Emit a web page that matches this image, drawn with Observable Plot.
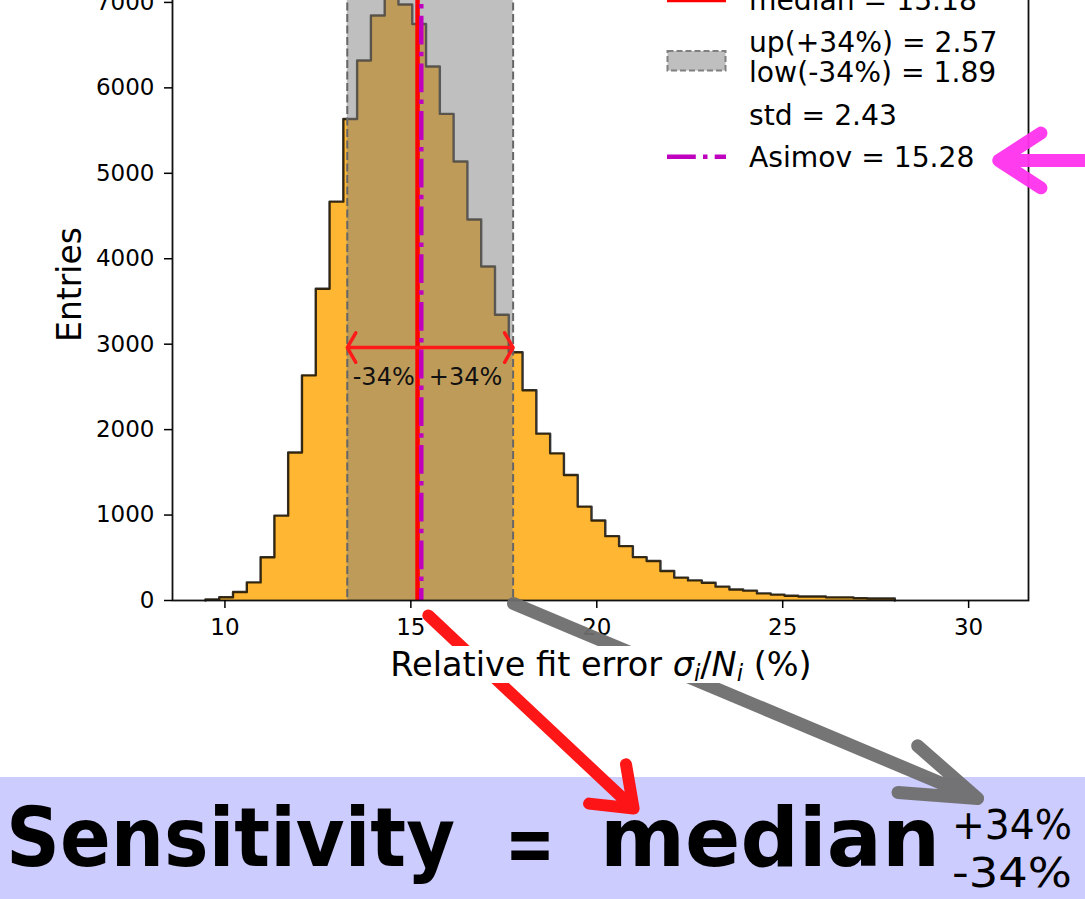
<!DOCTYPE html>
<html>
<head>
<meta charset="utf-8">
<script src="https://cdn.jsdelivr.net/npm/d3@7"></script>
<script src="https://cdn.jsdelivr.net/npm/@observablehq/plot@0.6"></script>
<style>
  html, body { margin: 0; padding: 0; background: #fff; }
  #wrap { position: relative; width: 1085px; height: 899px; overflow: hidden; background: #fff; font-family: "DejaVu Sans", sans-serif; }
  #band { position: absolute; left: 0; top: 777px; width: 1085px; height: 122px; background: #ccccff; }
  #chart { position: absolute; left: 0; top: -72px; }
  #overlay { position: absolute; left: 0; top: 0; }
</style>
</head>
<body>
<div id="wrap">
  <div id="band"></div>
  <div id="chart"></div>
  <svg id="overlay" width="1085" height="899"></svg>
</div>
<script>
// ---- data ----
const counts = [12, 38, 100, 212, 507, 993, 1732, 2635, 3648, 4668,
                5635, 6320, 6847, 7045, 6975, 6748, 6250, 5695, 5138, 4460,
                3910, 3345, 2905, 2461, 1953, 1722, 1468, 1099, 937, 753,
                637, 508, 462, 346, 268, 235, 208, 162, 129, 115,
                83, 69, 55, 46, 46, 37, 37, 28, 23, 23];
const binStart = 9.476;
const binWidth = 0.3708;
const median = 15.18;
const upErr = 2.57;
const lowErr = 1.89;
const stdVal = 2.43;
const asimov = 15.28;
const xTicks = [10, 15, 20, 25, 30];
const yTicks = [0, 1000, 2000, 3000, 4000, 5000, 6000, 7000];
const legendLabels = ["median = 15.18", "up(+34%) = 2.57", "low(-34%) = 1.89", "std = 2.43", "Asimov = 15.28"];
const pctLabels = [{x: 14.27, y: 2616, t: "-34%"}, {x: 16.47, y: 2616, t: "+34%"}];
// hand-drawn annotation arrows (data coordinates)
const redArrow = [{x1: 15.47, y1: -175, x2: 20.99, y2: -2434}];
const grayArrow = [{x1: 17.76, y1: -35, x2: 30.24, y2: -2317}];
const magentaArrow = [{x1: 36.0, y1: 5150, x2: 30.81, y2: 5150}];
const doubleArrowY = 2961;

// ---- derived tables ----
const bins = counts.map((c, i) => ({x1: binStart + i * binWidth, x2: binStart + (i + 1) * binWidth, y: c}));
const last = bins[bins.length - 1];
const outline = [{x: binStart, y: 0}, ...bins.map(b => ({x: b.x1, y: b.y})), {x: last.x2, y: last.y}, {x: last.x2, y: 0}];
const lo = median - lowErr, hi = median + upErr;
const halfArrows = [{x1: median, x2: lo, y: doubleArrowY}, {x1: median, x2: hi, y: doubleArrowY}];

const chart = Plot.plot({
  width: 1085, height: 971,
  marginLeft: 172, marginRight: 57, marginTop: 40, marginBottom: 299,
  style: {background: "transparent", fontFamily: "DejaVu Sans", color: "#000", overflow: "visible"},
  x: {domain: [8.59, 31.61]},
  y: {domain: [0, 7397]},
  marks: [
    Plot.areaY(outline, {x: "x", y: "y", curve: "step-after", fill: "#ffa500", fillOpacity: 0.8}),
    Plot.line(outline, {x: "x", y: "y", curve: "step-after", stroke: "#000", strokeOpacity: 0.8, strokeWidth: 2.4}),
    Plot.rect([{lo, hi}], {x1: "lo", x2: "hi", fill: "#808080", fillOpacity: 0.5}),
    Plot.ruleX([lo, hi], {stroke: "#666", strokeWidth: 2, strokeDasharray: "8,3.5"}),
    Plot.ruleX([median], {stroke: "#ff0000", strokeWidth: 4.5}),
    Plot.ruleX([asimov], {stroke: "#bf00bf", strokeWidth: 4.5, strokeDasharray: "28.8,7.2,4.5,7.2"}),
    Plot.frame({stroke: "#111", strokeWidth: 1.8}),
    Plot.axisX({ticks: xTicks, tickSize: 8, tickPadding: 10, fontSize: 23, label: null, strokeWidth: 1.5, tickFormat: d3.format("d")}),
    Plot.axisY({ticks: yTicks, tickSize: 8, tickPadding: 10, fontSize: 23, label: null, strokeWidth: 1.5, tickFormat: d3.format("d")}),
    Plot.text(["Entries"], {frameAnchor: "left", dx: -92, rotate: -90, textAnchor: "middle", lineAnchor: "bottom", fontSize: 33, text: d => d, fill: "#000"}),
    // red double arrow between the 34% bounds
    Plot.arrow(halfArrows, {x1: "x1", x2: "x2", y1: "y", y2: "y", stroke: "#ff1a1a", strokeWidth: 3.5, headLength: 7.3, headAngle: 120, strokeLinecap: "round"}),
    Plot.text(pctLabels, {x: "x", y: "y", text: "t", fontSize: 24, fill: "#111"}),
    // hand-drawn arrows
    Plot.arrow(redArrow, {x1: "x1", y1: "y1", x2: "x2", y2: "y2", stroke: "#ff0a0a", strokeWidth: 12, headLength: 5.6, headAngle: 74, strokeLinecap: "round", strokeLinejoin: "round", strokeOpacity: 0.95}),
    Plot.arrow(grayArrow, {x1: "x1", y1: "y1", x2: "x2", y2: "y2", stroke: "#6e6e6e", strokeWidth: 13, headLength: 9.2, headAngle: 37, strokeLinecap: "round", strokeLinejoin: "round", strokeOpacity: 0.95}),
    Plot.arrow(magentaArrow, {x1: "x1", y1: "y1", x2: "x2", y2: "y2", stroke: "#ff33ee", strokeWidth: 13, headLength: 5.8, headAngle: 66, strokeLinecap: "round", strokeLinejoin: "round", strokeOpacity: 0.95})
  ]
});
document.getElementById("chart").appendChild(chart);

// ---- overlay: x label, legend, bottom banner text ----
const ov = d3.select("#overlay").attr("font-family", "DejaVu Sans");

const xl = ov.append("g");
xl.append("rect").attr("x", 384).attr("y", 646).attr("width", 436).attr("height", 37).attr("fill", "#fff");
const t = xl.append("text").attr("x", 601).attr("y", 676).attr("text-anchor", "middle").attr("font-size", 33.5).attr("fill", "#000");
t.append("tspan").text("Relative fit error ");
t.append("tspan").attr("font-style", "italic").text("σ");
t.append("tspan").attr("font-style", "italic").attr("font-size", 23).attr("dy", 5).text("i");
t.append("tspan").attr("dy", -5).text("/");
t.append("tspan").attr("font-style", "italic").text("N");
t.append("tspan").attr("font-style", "italic").attr("font-size", 23).attr("dy", 5).text("i");
t.append("tspan").attr("dy", -5).text(" (%)");

const lg = ov.append("g").attr("font-size", 28.2).attr("fill", "#000");
const lx = 749;
lg.append("line").attr("x1", 667).attr("x2", 726).attr("y1", 0).attr("y2", 0).attr("stroke", "#ff0000").attr("stroke-width", 4.5);
lg.append("text").attr("x", lx).attr("y", 10).text(legendLabels[0]);
lg.append("rect").attr("x", 667.5).attr("y", 51).attr("width", 58).attr("height", 19.5)
  .attr("fill", "#bfbfbf").attr("stroke", "#808080").attr("stroke-width", 2).attr("stroke-dasharray", "6,3");
lg.append("text").attr("x", lx).attr("y", 51.7).text(legendLabels[1]);
lg.append("text").attr("x", lx).attr("y", 81.7).text(legendLabels[2]);
lg.append("text").attr("x", lx).attr("y", 125).text(legendLabels[3]);
lg.append("line").attr("x1", 667).attr("x2", 726).attr("y1", 156.7).attr("y2", 156.7).attr("stroke", "#bf00bf").attr("stroke-width", 4.5).attr("stroke-dasharray", "28.8,7.2,4.5,7.2");
lg.append("text").attr("x", lx).attr("y", 166.7).text(legendLabels[4]);

const bt = ov.append("g").attr("fill", "#000").attr("font-weight", "bold");
bt.append("text").attr("x", 6).attr("y", 866).attr("font-size", 82).attr("textLength", 449).attr("lengthAdjust", "spacingAndGlyphs").text("Sensitivity");
bt.append("text").attr("x", 505).attr("y", 872).attr("font-size", 82).attr("textLength", 50).attr("lengthAdjust", "spacingAndGlyphs").text("=");
bt.append("text").attr("x", 600).attr("y", 866).attr("font-size", 82).attr("textLength", 340).attr("lengthAdjust", "spacingAndGlyphs").text("median");
bt.append("text").attr("x", 952).attr("y", 839).attr("font-size", 40).attr("font-weight", "normal").attr("textLength", 120).attr("lengthAdjust", "spacingAndGlyphs").text("+34%");
bt.append("text").attr("x", 952).attr("y", 887).attr("font-size", 40).attr("font-weight", "normal").attr("textLength", 120).attr("lengthAdjust", "spacingAndGlyphs").text("-34%");
</script>
</body>
</html>
